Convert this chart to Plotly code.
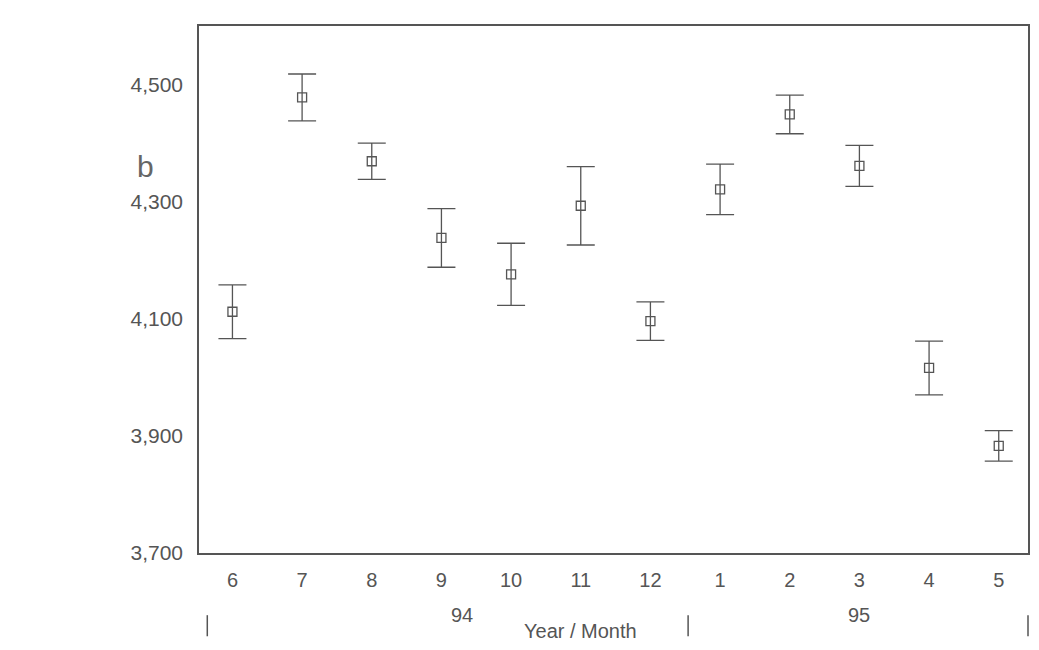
import plotly.graph_objects as go

months = ["6", "7", "8", "9", "10", "11", "12", "1", "2", "3", "4", "5"]
means = [4112, 4478, 4369, 4238, 4176, 4293, 4096, 4321, 4449, 4361, 4016, 3883]
errors = [46, 40, 31, 50, 53, 67, 33, 43, 33, 35, 46, 26]
y_ticks = [3700, 3900, 4100, 4300, 4500]
y_tick_labels = ["3,700", "3,900", "4,100", "4,300", "4,500"]
years = [("94", 3.3), ("95", 9.0)]
year_separators = [0.01, 0.59, 1.0]

GREY = "#555555"
FONT = "Liberation Sans, Arial, sans-serif"

fig = go.Figure()
fig.add_trace(go.Scatter(
    x=list(range(len(months))), y=means, mode="markers",
    marker=dict(symbol="square-open", size=9, color=GREY, line=dict(width=1.3, color=GREY)),
    error_y=dict(type="data", array=errors, visible=True, color=GREY, thickness=1.3, width=14),
    showlegend=False,
))

for label, xpos in years:
    fig.add_annotation(x=xpos, y=-0.118, xref="x", yref="paper", text=label, yanchor="middle",
                       showarrow=False, font=dict(family=FONT, size=20, color=GREY))
fig.add_annotation(x=0.46, y=-0.148, xref="paper", yref="paper", text="Year / Month",
                   yanchor="middle", showarrow=False, font=dict(family=FONT, size=20, color=GREY))
for xs in year_separators:
    fig.add_shape(type="line", x0=xs, x1=xs, y0=-0.118, y1=-0.158, xref="paper", yref="paper",
                  line=dict(color=GREY, width=1.5))
fig.add_annotation(x=-0.077, y=0.768, xref="paper", yref="paper", text="b",
                   showarrow=False, font=dict(family=FONT, size=30, color="#666666"))

fig.update_layout(
    width=1039, height=650,
    margin=dict(l=199, r=9, t=26, b=97),
    paper_bgcolor="white", plot_bgcolor="white",
    font=dict(family=FONT, color=GREY),
    xaxis=dict(range=[-0.48, 11.42], tickmode="array", tickvals=list(range(len(months))),
               ticktext=months, showgrid=False, zeroline=False, showline=True, mirror=True,
               linecolor="#555555", linewidth=1.5, ticks="", ticklabelstandoff=8,
               tickfont=dict(size=20, color=GREY)),
    yaxis=dict(range=[3700, 4600], tickmode="array", tickvals=y_ticks, ticktext=y_tick_labels,
               showgrid=False, zeroline=False, showline=True, mirror=True,
               linecolor="#555555", linewidth=1.5, ticks="", ticklabelstandoff=10,
               tickfont=dict(size=21, color=GREY)),
)

fig.write_html("out.html")
